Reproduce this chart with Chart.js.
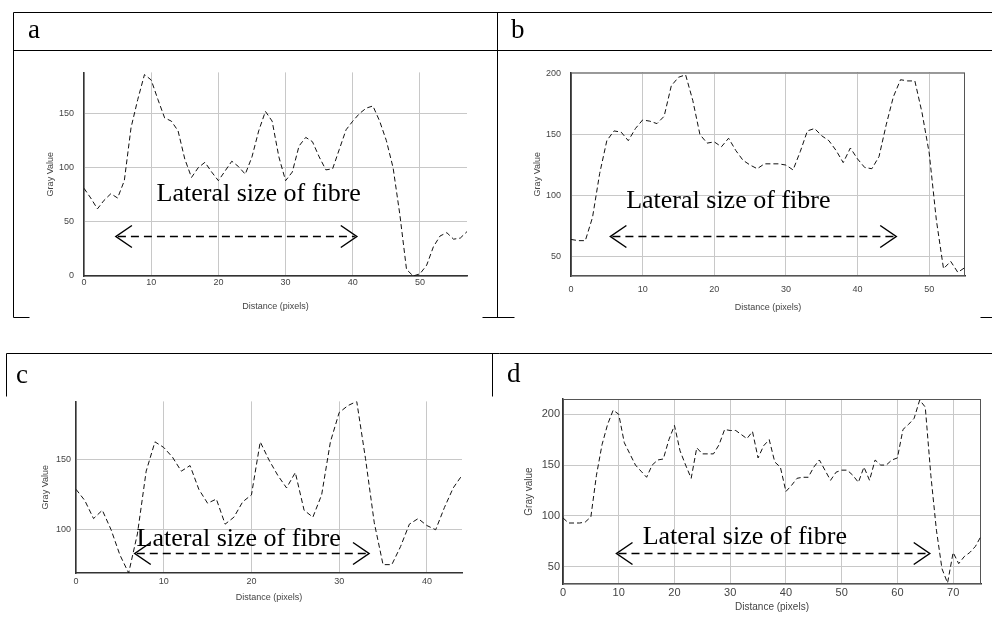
<!DOCTYPE html>
<html>
<head>
<meta charset="utf-8">
<script src="https://cdn.jsdelivr.net/npm/chart.js@4"></script>
<style>
  body { margin: 0; background: #fff; }
  #page { position: relative; width: 992px; height: 623px; overflow: hidden; }
  #page canvas { position: absolute; }
</style>
</head>
<body>
<div id="page"></div>
<script>
// ================= DATA (gray value per pixel of distance) =================
const grayA = [81,72,62,70,76,72,88,137,163,186,181,163,146,143,134,108,91,100,105,96,
               88,97,106,101,94,110,134,152,143,110,88,96,120,128,124,110,98,99,117,135,
               143,150,155,157,143,125,100,57,6,0,2,10,27,37,40,34,35,41];
const grayB = [64,63,63,82,118,145,153,152,145,155,162,161,159,165,190,197,199,178,150,143,
               144,140,147,137,129,125,122,126,126,126,125,121,136,153,155,149,145,137,127,139,
               130,123,122,132,158,181,195,194,194,168,135,80,40,46,37,41];
const grayC = [129,121,108,114,100,82,69,97,142,163,159,152,142,146,129,119,122,104,109,120,
               125,163,150,139,130,141,114,109,125,163,184,189,192,151,105,75,75,88,104,108,
               103,100,116,130,139];
const grayD = [98,93,93,93,94,99,140,170,190,204,200,172,161,150,144,138,150,155,156,175,
               189,164,150,137,167,161,161,161,170,185,184,184,180,176,183,157,169,175,153,148,
               124,130,137,138,138,148,155,145,135,143,145,145,140,133,148,135,155,150,150,155,
               157,185,190,196,214,207,140,86,48,34,64,53,60,64,70,80];

const xTicksA = [0, 10, 20, 30, 40, 50];
const yTicksA = [0, 50, 100, 150];
const xTicksB = [0, 10, 20, 30, 40, 50];
const yTicksB = [50, 100, 150, 200];
const xTicksC = [0, 10, 20, 30, 40];
const yTicksC = [100, 150];
const xTicksD = [0, 10, 20, 30, 40, 50, 60, 70];
const yTicksD = [50, 100, 150, 200];

const noteText = "Lateral size of fibre";
const xTitle = "Distance (pixels)";

// ------------------- PLUGINS -------------------
// dashed double arrow + caption, placed in data units
const fibreNote = {
  id: 'fibre',
  afterDraw(chart, args, o) {
    if (!o || !o.arrow) return;
    const { ctx } = chart;
    const sx = chart.scales.x, sy = chart.scales.y;
    const x1 = sx.getPixelForValue(o.arrow.from);
    const x2 = sx.getPixelForValue(o.arrow.to);
    const ay = Math.round(sy.getPixelForValue(o.arrow.y)) + 0.5;
    ctx.save();
    ctx.strokeStyle = '#000';
    ctx.lineWidth = 1.5;
    ctx.setLineDash([8, 5]);
    ctx.beginPath(); ctx.moveTo(x1 + 2, ay); ctx.lineTo(x2 - 2, ay); ctx.stroke();
    ctx.setLineDash([]);
    ctx.beginPath();
    ctx.moveTo(x1 + 16, ay - 11); ctx.lineTo(x1, ay); ctx.lineTo(x1 + 16, ay + 11);
    ctx.moveTo(x2 - 16, ay - 11); ctx.lineTo(x2, ay); ctx.lineTo(x2 - 16, ay + 11);
    ctx.stroke();
    ctx.font = '26px "Liberation Serif", "Times New Roman", serif';
    ctx.fillStyle = '#000';
    ctx.textBaseline = 'alphabetic';
    ctx.fillText(o.text, sx.getPixelForValue(o.at.x), sy.getPixelForValue(o.at.y));
    ctx.restore();
  }
};

// box around plot area (panels b and d)
const frame = {
  id: 'frame',
  beforeDatasetsDraw(chart, args, o) {
    if (!o || !o.on) return;
    const { ctx, chartArea: c } = chart;
    ctx.save();
    ctx.strokeStyle = '#555';
    ctx.lineWidth = 1;
    ctx.strokeRect(c.left + 0.5, c.top + 0.5, c.right - c.left - 1, c.bottom - c.top - 1);
    ctx.restore();
  }
};

// ------------------- PANELS -------------------
const PAD = { top: 10, right: 10, bottom: 2, left: 2 };
const page = document.getElementById('page');

function addPanel(p) {
  const yW = p.plot.left - p.yTitleX + Math.round(p.titleSize * 0.6);
  const xH = p.xTitleY - p.plot.bottom + Math.round(p.titleSize * 0.6);
  const cv = document.createElement('canvas');
  cv.width = (p.plot.right - p.plot.left) + yW + PAD.left + PAD.right;
  cv.height = (p.plot.bottom - p.plot.top) + xH + PAD.top + PAD.bottom;
  cv.style.left = (p.plot.left - yW - PAD.left) + 'px';
  cv.style.top = (p.plot.top - PAD.top) + 'px';
  page.appendChild(cv);

  const tickFont = { family: '"Liberation Sans", Arial, sans-serif', size: p.tickSize };
  const titleFont = { family: '"Liberation Sans", Arial, sans-serif', size: p.titleSize };

  new Chart(cv, {
    type: 'line',
    data: {
      datasets: [{
        data: p.values.map((v, i) => ({ x: i, y: v })),
        borderColor: '#111',
        borderWidth: 1,
        borderDash: [5, 3],
        pointRadius: 0,
        tension: 0,
        fill: false
      }]
    },
    options: {
      responsive: false,
      animation: false,
      devicePixelRatio: 1,
      layout: { padding: PAD },
      plugins: {
        legend: { display: false },
        tooltip: { enabled: false },
        fibre: p.note,
        frame: { on: p.frame }
      },
      scales: {
        x: {
          type: 'linear', min: 0, max: p.xMax,
          afterBuildTicks: s => { s.ticks = p.xTicks.map(v => ({ value: v })); },
          afterFit: s => { s.height = xH; },
          grid: { color: '#c8c8c8', lineWidth: 1, drawTicks: false },
          border: { color: '#333', width: 1.5 },
          ticks: { padding: p.xTickPad, font: tickFont, color: '#444', maxRotation: 0, autoSkip: false },
          title: { display: true, text: xTitle, padding: 0, font: titleFont, color: '#444' }
        },
        y: {
          type: 'linear', min: p.yMin, max: p.yMax,
          afterBuildTicks: s => { s.ticks = p.yTicks.map(v => ({ value: v })); },
          afterFit: s => { s.width = yW; },
          grid: { color: '#c8c8c8', lineWidth: 1, drawTicks: false },
          border: { color: '#333', width: 1.5 },
          ticks: { padding: p.yTickPad, font: tickFont, color: '#444' },
          title: { display: true, text: p.yTitle, padding: 0, font: titleFont, color: '#444' }
        }
      }
    },
    plugins: [frame, fibreNote]
  });
}

addPanel({
  values: grayA, xTicks: xTicksA, yTicks: yTicksA, xMax: 57, yMin: 0, yMax: 188,
  plot: { left: 84, right: 467, top: 67, bottom: 276 },
  yTitleX: 50, xTitleY: 307, tickSize: 9, titleSize: 9, xTickPad: 1, yTickPad: 10,
  yTitle: 'Gray Value', frame: false,
  note: { text: noteText, at: { x: 10.8, y: 69 }, arrow: { from: 4.75, to: 40.6, y: 37 } }
});
addPanel({
  values: grayB, xTicks: xTicksB, yTicks: yTicksB, xMax: 55, yMin: 34, yMax: 201,
  plot: { left: 571, right: 965, top: 67, bottom: 276 },
  yTitleX: 537, xTitleY: 308, tickSize: 9, titleSize: 9, xTickPad: 8, yTickPad: 10,
  yTitle: 'Gray Value', frame: true,
  note: { text: noteText, at: { x: 7.7, y: 90 }, arrow: { from: 5.5, to: 45.4, y: 66.7 } }
});
addPanel({
  values: grayC, xTicks: xTicksC, yTicks: yTicksC, xMax: 44, yMin: 69, yMax: 192,
  plot: { left: 76, right: 462, top: 401, bottom: 573 },
  yTitleX: 45, xTitleY: 598, tickSize: 9, titleSize: 9, xTickPad: 3, yTickPad: 5,
  yTitle: 'Gray Value', frame: false,
  note: { text: noteText, at: { x: 6.9, y: 88.5 }, arrow: { from: 6.7, to: 33.4, y: 83 } }
});
addPanel({
  values: grayD, xTicks: xTicksD, yTicks: yTicksD, xMax: 75, yMin: 33, yMax: 215,
  plot: { left: 563, right: 981, top: 399, bottom: 584 },
  yTitleX: 529, xTitleY: 607, tickSize: 11, titleSize: 10, xTickPad: 2, yTickPad: 3,
  yTitle: 'Gray value', frame: true,
  note: { text: noteText, at: { x: 14.3, y: 72.3 }, arrow: { from: 9.6, to: 65.8, y: 63.2 } }
});

// ------------------- TABLE LINES + PANEL LETTERS -------------------
const tbl = document.createElement('canvas');
tbl.width = 992; tbl.height = 623;
tbl.style.left = '0px'; tbl.style.top = '0px';
page.appendChild(tbl);
const g = tbl.getContext('2d');
g.strokeStyle = '#000';
g.lineWidth = 1;
function seg(x1, y1, x2, y2) {
  g.beginPath(); g.moveTo(x1 + 0.5, y1 + 0.5); g.lineTo(x2 + 0.5, y2 + 0.5); g.stroke();
}
// top row
seg(13, 12, 992, 12);
seg(13, 50, 992, 50);
seg(13, 12, 13, 317);
seg(497, 12, 497, 317);
seg(13, 317, 29, 317);
seg(482, 317, 514, 317);
seg(980, 317, 992, 317);
// bottom row
seg(6, 353, 992, 353);
seg(6, 353, 6, 396);
seg(492, 353, 492, 396);

g.fillStyle = '#000';
g.font = '27px "Liberation Serif", "Times New Roman", serif';
g.textBaseline = 'alphabetic';
g.fillText('a', 28, 38);
g.fillText('b', 511, 38);
g.fillText('c', 16, 383);
g.fillText('d', 507, 382);
</script>
</body>
</html>
